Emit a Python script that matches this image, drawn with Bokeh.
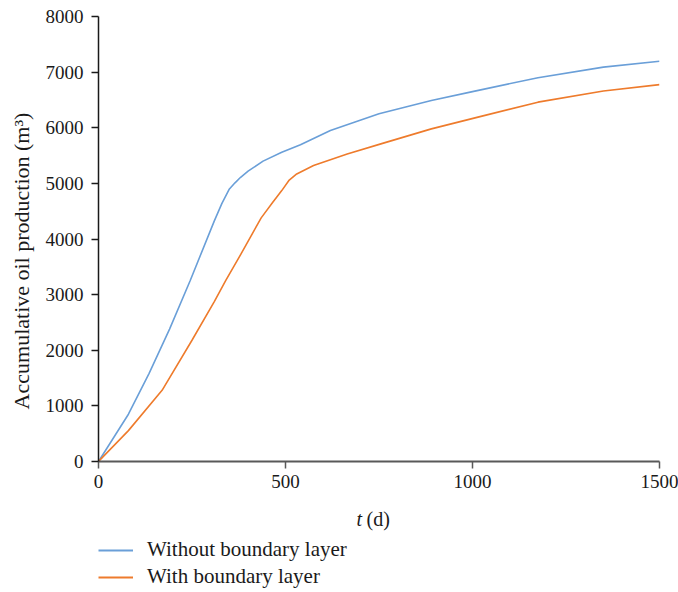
from bokeh.plotting import figure
from bokeh.layouts import column
from bokeh.models import Range1d, Legend, LegendItem, FixedTicker, ColumnDataSource
from bokeh.core.properties import value
from bokeh.embed import file_html
from bokeh.resources import INLINE

# Data
t_without = [0, 80, 135, 190, 245, 310, 330, 350, 365, 380, 400, 440, 490, 540, 620, 750, 890, 1000, 1175, 1350, 1500]
v_without = [0, 850, 1580, 2380, 3250, 4330, 4640, 4900, 5010, 5110, 5220, 5400, 5560, 5695, 5950, 6250, 6490, 6650, 6900, 7090, 7195]

t_with = [0, 80, 170, 250, 310, 340, 380, 435, 465, 490, 510, 530, 575, 665, 755, 890, 1020, 1175, 1350, 1500]
v_with = [0, 555, 1280, 2180, 2880, 3250, 3720, 4380, 4650, 4870, 5060, 5170, 5320, 5530, 5710, 5980, 6200, 6460, 6660, 6775]

x_ticks = [0, 500, 1000, 1500]
y_ticks = [0, 1000, 2000, 3000, 4000, 5000, 6000, 7000, 8000]

label_without = "Without boundary layer"
label_with = "With boundary layer"
y_title = "Accumulative oil production (m\u00b3)"

FONT = "Liberation Serif"
TXT = "#1a1a1a"
BLUE = "#6a9fd8"
ORANGE = "#ee7b2c"

# ---------------- main chart ----------------
p = figure(width=678, height=500, output_backend="svg", toolbar_location=None,
           x_range=Range1d(0, 1500), y_range=Range1d(0, 8000),
           min_border_left=98, min_border_right=19, min_border_top=16, min_border_bottom=39)
p.outline_line_color = None
p.grid.visible = False

p.line(t_without, v_without, line_color=BLUE, line_width=1.6)
p.line(t_with, v_with, line_color=ORANGE, line_width=1.6)

xa = p.xaxis[0]
xa.ticker = FixedTicker(ticks=x_ticks)
xa.axis_line_color = "#595959"
xa.axis_line_width = 2
xa.major_tick_line_color = "#595959"
xa.major_tick_line_width = 1.5
xa.major_tick_out = 7
xa.major_tick_in = 0
xa.minor_tick_line_color = None
xa.major_label_text_font = FONT
xa.major_label_text_font_size = "19px"
xa.major_label_text_color = TXT
xa.major_label_standoff = 6

ya = p.yaxis[0]
ya.ticker = FixedTicker(ticks=y_ticks)
ya.axis_line_color = TXT
ya.axis_line_width = 1.5
ya.major_tick_line_color = TXT
ya.major_tick_line_width = 1.5
ya.major_tick_out = 7
ya.major_tick_in = 0
ya.minor_tick_line_color = None
ya.major_label_text_font = FONT
ya.major_label_text_font_size = "19px"
ya.major_label_text_color = TXT
ya.major_label_standoff = 8
ya.axis_label = y_title + "\u2002" * 4
ya.axis_label_text_font = FONT
ya.axis_label_text_font_size = "22px"
ya.axis_label_text_font_style = "normal"
ya.axis_label_text_color = TXT
ya.axis_label_standoff = 9

# ---------------- bottom strip: x title + legend ----------------
# frame spans canvas pixels 98..659 (aligned with the main frame), so x range is in pixels
b = figure(width=678, height=92, title=None, output_backend="svg", toolbar_location=None,
           x_range=Range1d(98, 659), y_range=Range1d(92, 0),
           x_axis_type=None, y_axis_type=None,
           min_border_left=98, min_border_right=19, min_border_top=0, min_border_bottom=0)
b.outline_line_color = None
b.grid.visible = False

b.text(x=[356], y=[18], text=["t"], text_font=value(FONT), text_font_size="20px",
       text_font_style="italic", text_color=TXT, text_baseline="alphabetic", text_align="left")
b.text(x=[366], y=[18], text=["(d)"], text_font=value(FONT), text_font_size="20px",
       text_color=TXT, text_baseline="alphabetic", text_align="left")

nan = float("nan")
d1 = b.line(source=ColumnDataSource(dict(x=[nan, nan], y=[nan, nan])), x="x", y="y",
            line_color=BLUE, line_width=2)
d2 = b.line(source=ColumnDataSource(dict(x=[nan, nan], y=[nan, nan])), x="x", y="y",
            line_color=ORANGE, line_width=2)
legend = Legend(items=[LegendItem(label=label_without, renderers=[d1]),
                       LegendItem(label=label_with, renderers=[d2])],
                location=(0, 3), orientation="vertical")
legend.border_line_color = None
legend.background_fill_alpha = 0
legend.padding = 0
legend.margin = 0
legend.spacing = 2
legend.glyph_width = 35
legend.glyph_height = 20
legend.label_height = 20
legend.label_standoff = 14
legend.label_text_font = FONT
legend.label_text_font_size = "21px"
legend.label_text_color = TXT
b.add_layout(legend, "center")

layout = column(p, b, spacing=0)
open("out.html", "w").write(file_html(layout, INLINE))
